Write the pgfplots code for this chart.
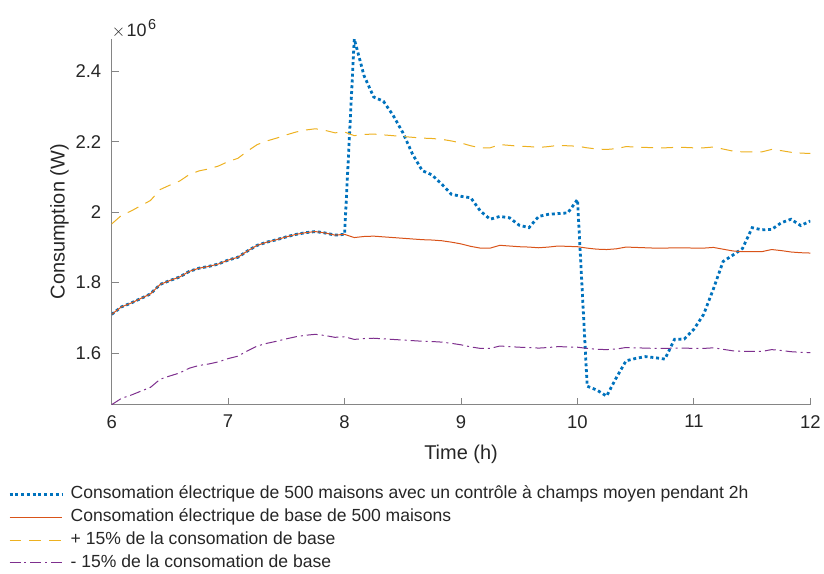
\documentclass[border=0pt]{standalone}
\usepackage{pgfplots}
\pgfplotsset{compat=1.18}
\usepackage{fontspec}
\setmainfont{Liberation Sans}
\definecolor{mblue}{HTML}{0072BD}
\definecolor{morange}{HTML}{D95319}
\definecolor{myellow}{HTML}{EDB120}
\definecolor{mpurple}{HTML}{7E2F8E}
\definecolor{axgray}{HTML}{858585}
\definecolor{txt}{HTML}{262626}

\pgfplotstableread{
t base
6.0000 1.710
6.0833 1.731
6.1667 1.742
6.2500 1.755
6.3333 1.768
6.4167 1.795
6.5000 1.806
6.5833 1.816
6.6667 1.832
6.7500 1.841
6.8333 1.846
6.9167 1.853
7.0000 1.864
7.0833 1.872
7.1667 1.890
7.2500 1.906
7.3333 1.915
7.4167 1.922
7.5000 1.930
7.5833 1.937
7.6667 1.942
7.7500 1.945
7.8333 1.941
7.9167 1.935
8.0000 1.937
8.0833 1.928
8.1667 1.931
8.2500 1.932
8.3333 1.930
8.4167 1.928
8.5000 1.926
8.5833 1.924
8.6667 1.922
8.7500 1.921
8.8333 1.919
8.9167 1.915
9.0000 1.910
9.0833 1.903
9.1667 1.898
9.2500 1.898
9.3333 1.906
9.4167 1.904
9.5000 1.902
9.5833 1.901
9.6667 1.899
9.7500 1.901
9.8333 1.904
9.9167 1.903
10.0000 1.902
10.0833 1.898
10.1667 1.895
10.2500 1.894
10.3333 1.896
10.4167 1.901
10.5000 1.900
10.5833 1.899
10.6667 1.898
10.7500 1.898
10.8333 1.899
10.9167 1.899
11.0000 1.898
11.0833 1.898
11.1667 1.900
11.2500 1.895
11.3333 1.890
11.4167 1.888
11.5000 1.888
11.5833 1.888
11.6667 1.894
11.7500 1.891
11.8333 1.887
11.9167 1.885
12.0000 1.884
}\basetab

\pgfplotstableread{
t ctrl
6.0000 1.710
6.0833 1.731
6.1667 1.742
6.2500 1.755
6.3333 1.768
6.4167 1.795
6.5000 1.806
6.5833 1.816
6.6667 1.832
6.7500 1.841
6.8333 1.846
6.9167 1.853
7.0000 1.864
7.0833 1.872
7.1667 1.890
7.2500 1.906
7.3333 1.915
7.4167 1.922
7.5000 1.930
7.5833 1.937
7.6667 1.942
7.7500 1.945
7.8333 1.941
7.9167 1.935
8.0000 1.937
8.0833 2.492
8.1667 2.388
8.2500 2.327
8.3333 2.315
8.4167 2.275
8.5000 2.226
8.5833 2.165
8.6667 2.118
8.7500 2.106
8.8333 2.080
8.9167 2.051
9.0000 2.045
9.0833 2.041
9.1667 2.003
9.2500 1.980
9.3333 1.988
9.4167 1.984
9.5000 1.963
9.5833 1.956
9.6667 1.988
9.7500 1.994
9.8333 1.996
9.9167 1.998
10.0000 2.036
10.0833 1.506
10.1667 1.495
10.2500 1.478
10.3333 1.530
10.4167 1.578
10.5000 1.585
10.5833 1.590
10.6667 1.587
10.7500 1.583
10.8333 1.639
10.9167 1.640
11.0000 1.668
11.0833 1.710
11.1667 1.782
11.2500 1.860
11.3333 1.878
11.4167 1.897
11.5000 1.956
11.5833 1.950
11.6667 1.951
11.7500 1.970
11.8333 1.980
11.9167 1.962
12.0000 1.975
}\ctrltab

\pgfplotstableread{
t plus minus
6.0000 1.9665 1.4535
6.0833 1.9907 1.4714
6.1667 2.0033 1.4807
6.2500 2.0183 1.4918
6.3333 2.0332 1.5028
6.4167 2.0643 1.5258
6.5000 2.0769 1.5351
6.5833 2.0884 1.5436
6.6667 2.1068 1.5572
6.7500 2.1172 1.5649
6.8333 2.1229 1.5691
6.9167 2.1310 1.5751
7.0000 2.1436 1.5844
7.0833 2.1528 1.5912
7.1667 2.1735 1.6065
7.2500 2.1919 1.6201
7.3333 2.2023 1.6278
7.4167 2.2103 1.6337
7.5000 2.2195 1.6405
7.5833 2.2276 1.6465
7.6667 2.2333 1.6507
7.7500 2.2368 1.6533
7.8333 2.2322 1.6499
7.9167 2.2253 1.6448
8.0000 2.2276 1.6465
8.0833 2.2172 1.6388
8.1667 2.2207 1.6414
8.2500 2.2218 1.6422
8.3333 2.2195 1.6405
8.4167 2.2172 1.6388
8.5000 2.2149 1.6371
8.5833 2.2126 1.6354
8.6667 2.2103 1.6337
8.7500 2.2092 1.6329
8.8333 2.2069 1.6312
8.9167 2.2023 1.6278
9.0000 2.1965 1.6235
9.0833 2.1885 1.6176
9.1667 2.1827 1.6133
9.2500 2.1827 1.6133
9.3333 2.1919 1.6201
9.4167 2.1896 1.6184
9.5000 2.1873 1.6167
9.5833 2.1862 1.6159
9.6667 2.1839 1.6142
9.7500 2.1862 1.6159
9.8333 2.1896 1.6184
9.9167 2.1885 1.6176
10.0000 2.1873 1.6167
10.0833 2.1827 1.6133
10.1667 2.1793 1.6108
10.2500 2.1781 1.6099
10.3333 2.1804 1.6116
10.4167 2.1862 1.6159
10.5000 2.1850 1.6150
10.5833 2.1839 1.6142
10.6667 2.1827 1.6133
10.7500 2.1827 1.6133
10.8333 2.1839 1.6142
10.9167 2.1839 1.6142
11.0000 2.1827 1.6133
11.0833 2.1827 1.6133
11.1667 2.1850 1.6150
11.2500 2.1793 1.6108
11.3333 2.1735 1.6065
11.4167 2.1712 1.6048
11.5000 2.1712 1.6048
11.5833 2.1712 1.6048
11.6667 2.1781 1.6099
11.7500 2.1747 1.6074
11.8333 2.1701 1.6040
11.9167 2.1678 1.6023
12.0000 2.1666 1.6014
}\bandtab

\begin{document}
\begin{tikzpicture}
\begin{axis}[
  name=ax,
  scale only axis,
  width=701pt, height=367pt,
  xmin=6, xmax=12, ymin=1.4535, ymax=2.492,
  axis lines=left,
  axis line style={-, draw=axgray, line width=1pt},
  tick align=inside,
  major tick length=7pt,
  tick style={draw=axgray, line width=1pt},
  xtick={6,7,8,9,10,11,12},
  xticklabels={6,7,8,9,10,11,12},
  ytick={1.6,1.8,2,2.2,2.4},
  yticklabels={1.6,1.8,2,2.2,2.4},
  scaled y ticks=false,
  ticklabel style={font=\fontsize{18.5}{21}\selectfont, text=txt},
  xticklabel style={yshift=-7pt},
  yticklabel style={xshift=-7pt},
  xlabel={Time (h)},
  ylabel={Consumption (W)},
  label style={font=\fontsize{20}{23}\selectfont, text=txt},
  xlabel style={yshift=-10pt},
  ylabel style={yshift=0pt},
  legend style={at={(-0.1484,-0.216)}, anchor=north west, draw=none, fill=none,
    font=\fontsize{17.6}{20}\selectfont, text=txt, row sep=1.3pt, column sep=5pt,
    cells={anchor=west}, inner sep=0pt,
    nodes={inner sep=2pt, text height=13pt, text depth=4.5pt}},
  legend image code/.code={\draw[#1] (0pt,0pt) -- (53pt,0pt);},
]
\addplot[mblue, line width=2.8pt, dash pattern=on 3pt off 2.8pt] table[x=t,y=ctrl] {\ctrltab};
\addlegendentry{Consomation électrique de 500 maisons avec un contrôle à champs moyen pendant 2h}
\addplot[morange, line width=1pt] table[x=t,y=base] {\basetab};
\addlegendentry{Consomation électrique de base de 500 maisons}
\addplot[myellow, line width=1pt, dash pattern=on 12pt off 8pt] table[x=t,y=plus] {\bandtab};
\addlegendentry{+ 15\% de la consomation de base}
\addplot[mpurple, line width=1pt, dash pattern=on 11pt off 4pt on 2pt off 4pt] table[x=t,y=minus] {\bandtab};
\addlegendentry{- 15\% de la consomation de base}
\end{axis}
\node[anchor=base west, inner sep=0pt, text=txt, font=\fontsize{18}{20}\selectfont] at ([shift={(0pt,2.5pt)}]ax.north west) {$\times$\kern1.5pt10\kern1.5pt\raisebox{7pt}{\fontsize{14.5}{16}\selectfont 6}};
\path[use as bounding box] ([shift={(-112pt,-162pt)}]ax.south west) rectangle ([shift={(712pt,406pt)}]ax.south west);
\end{tikzpicture}
\end{document}
